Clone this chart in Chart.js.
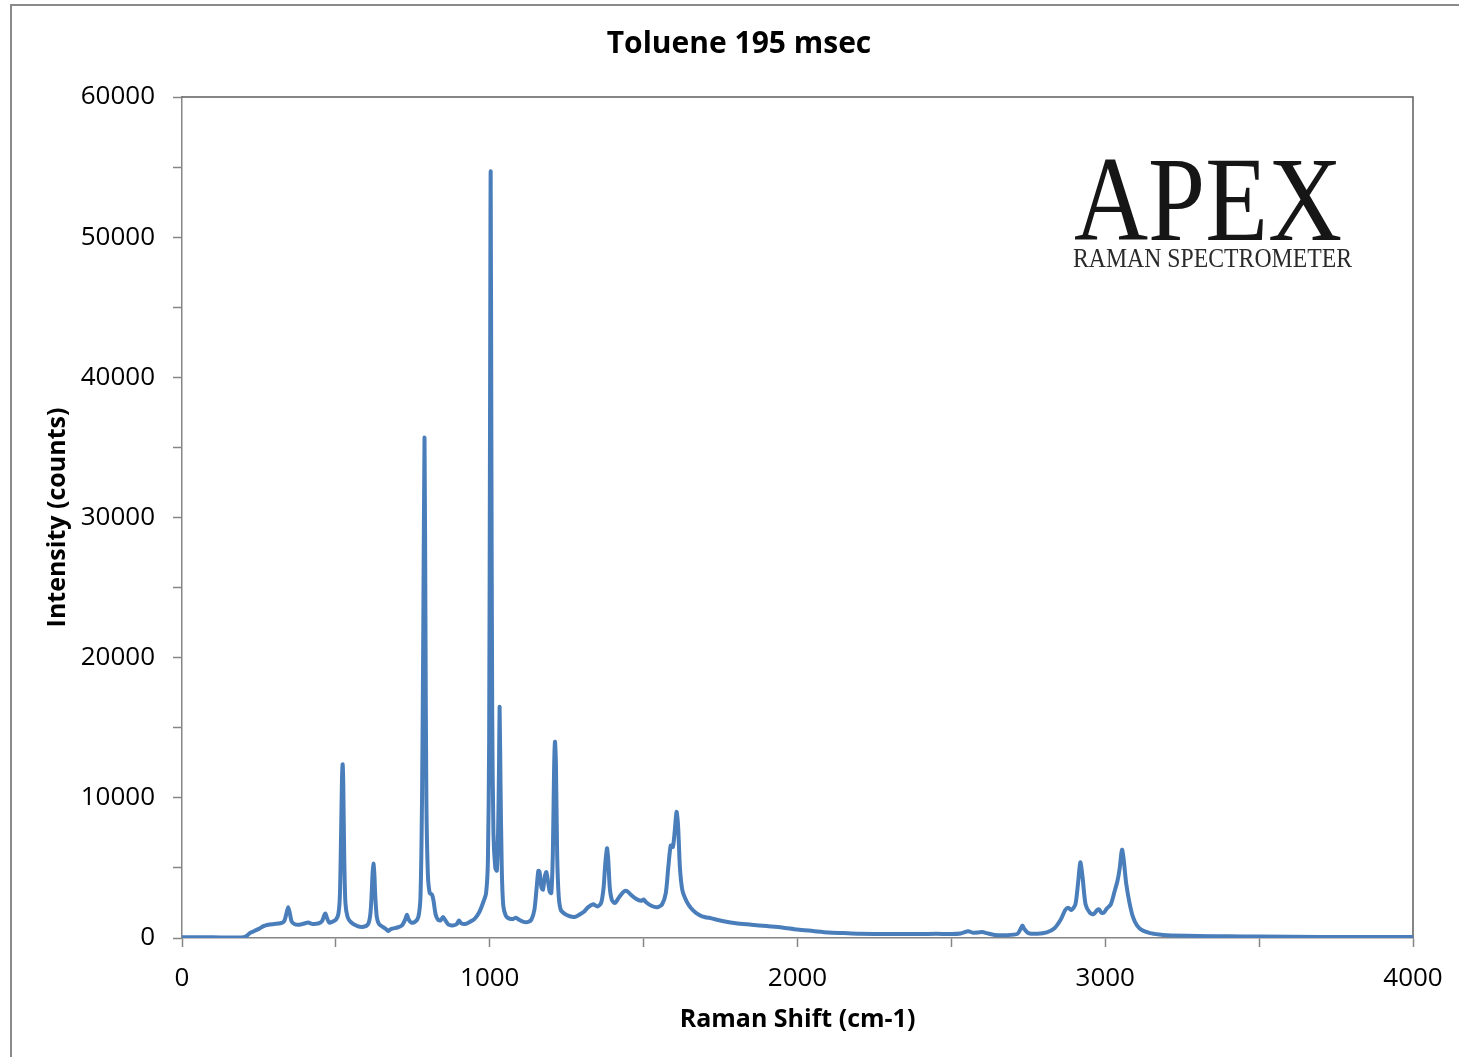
<!DOCTYPE html>
<html>
<head>
<meta charset="utf-8">
<title>Toluene 195 msec</title>
<script src="https://cdn.jsdelivr.net/npm/chart.js@4.4.1/dist/chart.umd.min.js"></script>
<style>
  html, body { margin: 0; padding: 0; background: #fff; overflow: hidden; }
  #frame { position: absolute; left: 10px; top: 4px; width: 1600px; height: 1200px; border: 2px solid #8a8a8a; }
  #myChart { position: absolute; left: 0; top: 0; }
</style>
</head>
<body>
<div id="frame"></div>
<canvas id="myChart" width="1459" height="1057"></canvas>
<script>
// DATA

var chartTitle = 'Toluene 195 msec';
var xTitle = 'Raman Shift (cm-1)';
var yTitle = 'Intensity (counts)';

// Raman shift, cm-1
var shift = [
    0, 100, 150, 200, 210, 220, 235, 250, 265, 280, 300, 320, 332, 340, 345, 350, 356, 365, 380, 400,
    410, 425, 445, 455, 462, 466, 470, 478, 488, 500, 508, 513, 517, 520, 522, 524, 527, 531, 538, 550,
    570, 590, 605, 612, 616, 619, 622, 625, 628, 633, 640, 655, 665, 670, 680, 700, 715, 725, 731, 737,
    745, 757, 768, 775, 780, 784, 788, 791, 794, 799, 805, 812, 817, 824, 832, 840, 848, 856, 866, 880,
    893, 900, 907, 920, 935, 950, 965, 978, 988, 994, 998, 1001, 1003, 1005, 1008, 1012, 1018, 1023, 1027, 1030,
    1032, 1035, 1039, 1044, 1052, 1062, 1075, 1085, 1095, 1110, 1125, 1135, 1145, 1152, 1158, 1162, 1168, 1173, 1179, 1184,
    1189, 1195, 1200, 1205, 1209, 1212, 1215, 1219, 1224, 1231, 1245, 1260, 1275, 1290, 1305, 1320, 1336, 1350, 1362, 1370,
    1375, 1381, 1385, 1390, 1397, 1407, 1420, 1435, 1446, 1458, 1475, 1492, 1500, 1508, 1525, 1545, 1560, 1572, 1580, 1588,
    1595, 1601, 1607, 1612, 1618, 1626, 1640, 1655, 1670, 1690, 1720, 1760, 1800, 1850, 1900, 1950, 2000, 2050, 2100, 2150,
    2200, 2300, 2400, 2450, 2500, 2530, 2555, 2570, 2600, 2615, 2640, 2680, 2715, 2725, 2731, 2737, 2750, 2780, 2810, 2835,
    2855, 2870, 2880, 2890, 2903, 2912, 2919, 2926, 2936, 2950, 2962, 2974, 2980, 2987, 2995, 3005, 3018, 3030, 3040, 3047,
    3052, 3055, 3060, 3068, 3078, 3090, 3103, 3120, 3146, 3175, 3200, 3300, 3400, 3500, 3700, 4000
];

// intensity, counts
var counts = [
    60, 50, 40, 50, 150, 350, 500, 650, 850, 950, 1000, 1050, 1200, 1800, 2200, 1800, 1200, 1000, 950, 1050,
    1100, 1000, 1050, 1200, 1600, 1750, 1500, 1100, 1150, 1300, 1700, 3000, 7500, 11500, 12400, 11000, 6000, 2500, 1500, 1100,
    850, 800, 1000, 1700, 3000, 4500, 5300, 4600, 3000, 1500, 1000, 750, 600, 500, 650, 750, 900, 1300, 1650, 1300,
    1100, 1150, 1500, 3000, 10000, 22000, 35700, 23000, 10000, 4500, 3200, 3100, 2700, 1700, 1300, 1250, 1500, 1250, 950, 900,
    1000, 1250, 1050, 1000, 1150, 1350, 1800, 2500, 3200, 5500, 14000, 38000, 54700, 38000, 16000, 7500, 5000, 4800, 7500, 12000,
    16500, 11000, 5000, 2300, 1600, 1400, 1350, 1450, 1300, 1150, 1150, 1300, 2000, 3500, 4800, 4700, 3600, 3450, 4400, 4700,
    4100, 3300, 3200, 6000, 12000, 14000, 12500, 6000, 3000, 2000, 1700, 1550, 1500, 1650, 1850, 2200, 2400, 2250, 2500, 3600,
    5200, 6400, 5600, 3600, 2700, 2500, 2900, 3300, 3350, 3100, 2800, 2650, 2750, 2550, 2300, 2200, 2400, 3200, 5000, 6600,
    6500, 7600, 9000, 8000, 5000, 3400, 2600, 2100, 1800, 1550, 1400, 1200, 1050, 950, 850, 750, 600, 500, 400, 350,
    300, 280, 280, 300, 280, 320, 480, 380, 420, 350, 220, 200, 300, 650, 900, 650, 350, 300, 400, 700,
    1300, 2000, 2150, 2000, 2400, 4000, 5400, 4400, 2400, 1800, 1700, 2000, 2050, 1800, 1800, 2100, 2400, 3300, 4100, 5000,
    6000, 6300, 5600, 3900, 2600, 1500, 900, 550, 350, 250, 200, 150, 120, 100, 80, 70
];

var xTickStep = 500;
var xLabelStep = 1000;
var yTickStep = 5000;
var yLabelStep = 10000;

// PLOT

var points = shift.map(function (x, i) {
    return { x: x, y: counts[i] };
});

var fontFamily = "'Open Sans', 'Noto Sans', sans-serif";
var axisGray = '#868686';

// top/right frame of the plot area, title and logo text
var decorations = {
    id: 'decorations',
    beforeDatasetsDraw: function (chart) {
        var a = chart.chartArea;
        var ctx = chart.ctx;
        ctx.save();
        ctx.strokeStyle = '#5e5e5e';
        ctx.lineWidth = 1.5;
        ctx.beginPath();
        ctx.moveTo(a.left, a.top);
        ctx.lineTo(a.right, a.top);
        ctx.lineTo(a.right, a.bottom);
        ctx.stroke();
        ctx.restore();
    },
    afterDraw: function (chart) {
        var ctx = chart.ctx;
        ctx.save();
        ctx.fillStyle = '#000';
        ctx.textAlign = 'center';
        ctx.textBaseline = 'middle';
        ctx.font = "bold 30px " + fontFamily;
        ctx.fillText(chartTitle, 739, 44);

        ctx.fillStyle = '#161616';
        ctx.textAlign = 'left';
        ctx.textBaseline = 'alphabetic';
        ctx.font = "120px 'Liberation Serif', 'DejaVu Serif', serif";
        ctx.fillText('APEX', 1074, 240, 268);
        ctx.fillStyle = '#2a2a2a';
        ctx.font = "27px 'Liberation Serif', 'DejaVu Serif', serif";
        ctx.fillText('RAMAN SPECTROMETER', 1073, 267, 279);
        ctx.restore();
    }
};

var canvas = document.getElementById('myChart');
var ctx = canvas.getContext('2d');

var chart = new Chart(ctx, {
    type: 'scatter',
    data: {
        datasets: [{
            label: chartTitle,
            data: points,
            showLine: true,
            borderColor: '#4A7EBB',
            backgroundColor: '#4A7EBB',
            borderWidth: 4,
            pointRadius: 0,
            tension: 0.25,
            borderJoinStyle: 'round',
            borderCapStyle: 'round'
        }]
    },
    options: {
        responsive: false,
        animation: false,
        layout: { padding: { top: 97, right: 46, bottom: 0, left: 0 } },
        plugins: {
            legend: { display: false },
            tooltip: { enabled: false },
            title: { display: false }
        },
        scales: {
            x: {
                type: 'linear',
                min: 0,
                max: 4000,
                afterFit: function (scale) { scale.height = 119; },
                border: { color: axisGray, width: 1.5 },
                grid: { drawOnChartArea: false, drawTicks: true, tickLength: 9, tickColor: axisGray, tickWidth: 1.5 },
                ticks: {
                    stepSize: xTickStep,
                    maxRotation: 0,
                    autoSkip: false,
                    padding: 16,
                    color: '#000',
                    font: { family: fontFamily, size: 26 },
                    callback: function (v) { return v % xLabelStep === 0 ? String(v) : ''; }
                },
                title: {
                    display: true,
                    text: xTitle,
                    color: '#000',
                    font: { family: fontFamily, size: 25, weight: 'bold' },
                    padding: { top: 0, bottom: 22 }
                }
            },
            y: {
                type: 'linear',
                min: 0,
                max: 60000,
                afterFit: function (scale) { scale.width = 182; },
                border: { color: axisGray, width: 1.5 },
                grid: { drawOnChartArea: false, drawTicks: true, tickLength: 9, tickColor: axisGray, tickWidth: 1.5 },
                ticks: {
                    stepSize: yTickStep,
                    autoSkip: false,
                    padding: 18,
                    color: '#000',
                    font: { family: fontFamily, size: 26 },
                    callback: function (v) { return v % yLabelStep === 0 ? String(v) : ''; }
                },
                title: {
                    display: true,
                    text: yTitle,
                    color: '#000',
                    font: { family: fontFamily, size: 25, weight: 'bold' },
                    padding: { top: 43, bottom: 0 }
                }
            }
        }
    },
    plugins: [decorations]
});
</script>
</body>
</html>
